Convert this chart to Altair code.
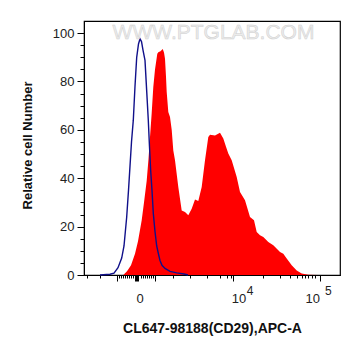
import altair as alt
import pandas as pd

FONT = "Liberation Sans"

# Isotype control histogram (blue outline); x in display-channel units
ctrl_x = [16, 26, 30, 34, 37.7, 40, 42.7, 44.5, 46, 47.5, 49.3, 51, 52.7, 54.5, 56, 57.5, 59, 61, 62.7, 64.3,
          65.5, 66.7, 68, 69.3, 71, 72.7, 74.3, 76, 78, 81, 86, 92.7, 100, 104]
ctrl_y = [0, 0.3, 0.8, 3, 7, 12, 24, 35, 45, 55, 64, 78, 90, 95.5, 97.6, 96.5, 93, 88.7, 76, 64,
          53, 43, 35, 25.5, 18, 12, 9, 6, 4, 2.7, 1.5, 0.9, 0.4, 0]

# Stained sample histogram (red fill)
sample_x = [39.3, 43, 47, 51, 54, 57.7, 60, 62.7, 64.5, 66, 67.7, 69.3, 71, 73.3, 74.3, 76.5, 78.7, 80, 81, 82,
            82.7, 84.3, 86, 87.7, 89.3, 91, 94.3, 97.7, 101, 104.3, 107.7, 111, 114.3, 117.7, 121, 124.3, 126, 131,
            136, 139.3, 142, 144.3, 147.7, 152.7, 156, 161, 166, 170, 172.7, 176, 179.3, 184.3, 189.3, 196, 199.3,
            202.7, 207.7, 212.7, 217.7, 224.3, 234]
sample_y = [0, 1.5, 4, 8.8, 14, 22.6, 30, 39, 48, 57, 67, 77.7, 85, 91.5, 92.1, 92.5, 93.4, 92, 89.4, 82,
            75.6, 67.4, 65.3, 60, 51.5, 47.4, 36.4, 26.7, 26, 24.7, 27.4, 31.2, 30.6, 36.4, 47.4, 57, 58, 57.7,
            58.8, 56.4, 53, 50.2, 47.4, 40.5, 34.3, 30.9, 24, 22.6, 17.8, 16.4, 15.7, 13.6, 12.3, 9.5, 8.8,
            6.8, 4, 1.9, 0.6, 0.1, 0]

# Axis ticks (display-channel units) and labels
x_major = [32.7, 50.5, 51.5, 52.5, 53.5, 71, 149.3, 236]
x_minor = [2.7, 16, 34.5, 36.5, 38.5, 40.5, 42.5, 44.5, 46.5, 48.5, 57, 59, 61, 63, 65, 67, 69, 89.3, 106,
           122.7, 136, 142.7, 147, 179.3, 196, 206, 212.7, 217.7, 221, 224.3, 227.5, 230.5]
x_label_pos = [56, 149.3, 236]
x_label_base = ["0", "10", "10"]
x_label_exp = ["", "4", "5"]
y_ticks = list(range(0, 101, 5))

x_title = "CL647-98188(CD29),APC-A"
y_title = "Relative cell Number"
watermark = "WWW.PTGLAB.COM"

ctrl = pd.DataFrame({"x": ctrl_x, "y": ctrl_y})
sample = pd.DataFrame({"x": sample_x, "y": sample_y})

xscale = alt.Scale(domain=[0, 256], nice=False, zero=False)
yscale = alt.Scale(domain=[0, 105], nice=False, zero=False)

major_test = "indexof([" + ",".join(str(v) for v in x_major) + "], datum.value) >= 0"

xaxis = alt.Axis(
    values=sorted(x_major + x_minor), labels=False, grid=False,
    tickSize={"condition": {"test": major_test, "value": 6}, "value": 3},
    tickColor="black", domainColor="black", domainWidth=1, tickWidth=1,
    title=x_title, titleFont=FONT, titleFontSize=14, titleFontWeight="bold", titleColor="#111",
    titleX=128, titleY=53, titleAlign="center", titleBaseline="middle",
)
yaxis = alt.Axis(
    values=y_ticks, grid=False,
    labelExpr="datum.value % 20 === 0 ? datum.label : ''",
    tickSize={"condition": {"test": "datum.value % 20 === 0", "value": 7}, "value": 4},
    tickColor="black", domainColor="black", domainWidth=1, tickWidth=1,
    labelFont=FONT, labelFontSize=13, labelColor="#222", labelPadding=3,
    title=y_title, titleFont=FONT, titleFontSize=13, titleFontWeight="bold", titleColor="#111",
    titleX=-57, titleY=124, titleAngle=270, titleAlign="center", titleBaseline="middle",
)

X = alt.X("x:Q", scale=xscale, axis=xaxis)
Y = alt.Y("y:Q", scale=yscale, axis=yaxis)

area = alt.Chart(sample).mark_area(color="#ff0000", interpolate="linear").encode(x=X, y=Y)
line = alt.Chart(ctrl).mark_line(color="#10108a", strokeWidth=1.4).encode(x=X, y=Y)

labels = pd.DataFrame({"x": x_label_pos, "base": x_label_base, "exp": x_label_exp})
lab0 = alt.Chart(labels.iloc[[0]]).mark_text(font=FONT, fontSize=13, color="#222", align="center",
                                              baseline="alphabetic").encode(x=X, y=alt.value(282), text="base:N")
lab4 = alt.Chart(labels.iloc[[1]]).mark_text(font=FONT, fontSize=13, color="#222", align="left", dx=-1.6,
                                              baseline="alphabetic").encode(x=X, y=alt.value(282), text="base:N")
exp4 = alt.Chart(labels.iloc[[1]]).mark_text(font=FONT, fontSize=12, color="#222", align="left", dx=13.4,
                                              baseline="alphabetic").encode(x=X, y=alt.value(274), text="exp:N")
lab5 = alt.Chart(labels.iloc[[2]]).mark_text(font=FONT, fontSize=13, color="#222", align="right", dx=0,
                                              baseline="alphabetic").encode(x=X, y=alt.value(282), text="base:N")
exp5 = alt.Chart(labels.iloc[[2]]).mark_text(font=FONT, fontSize=12, color="#222", align="left", dx=5,
                                              baseline="alphabetic").encode(x=X, y=alt.value(274), text="exp:N")

wm = alt.Chart(pd.DataFrame({"t": [watermark]})).mark_text(
    font=FONT, fontSize=21, color="#ececec", stroke="#cfcfcf", strokeWidth=0.5,
    align="center", baseline="middle"
).encode(text="t:N", x=alt.value(129.5), y=alt.value(11.5))

chart = alt.layer(area, line, wm, lab0, lab4, exp4, lab5, exp5).properties(
    width=256, height=254,
    autosize=alt.AutoSizeParams(type="none"),
    padding={"left": 84, "top": 21, "right": 21, "bottom": 81},
).configure_view(stroke="black", strokeWidth=1.2)

chart.save("out.html", embed_options={"renderer": "svg", "actions": False})
